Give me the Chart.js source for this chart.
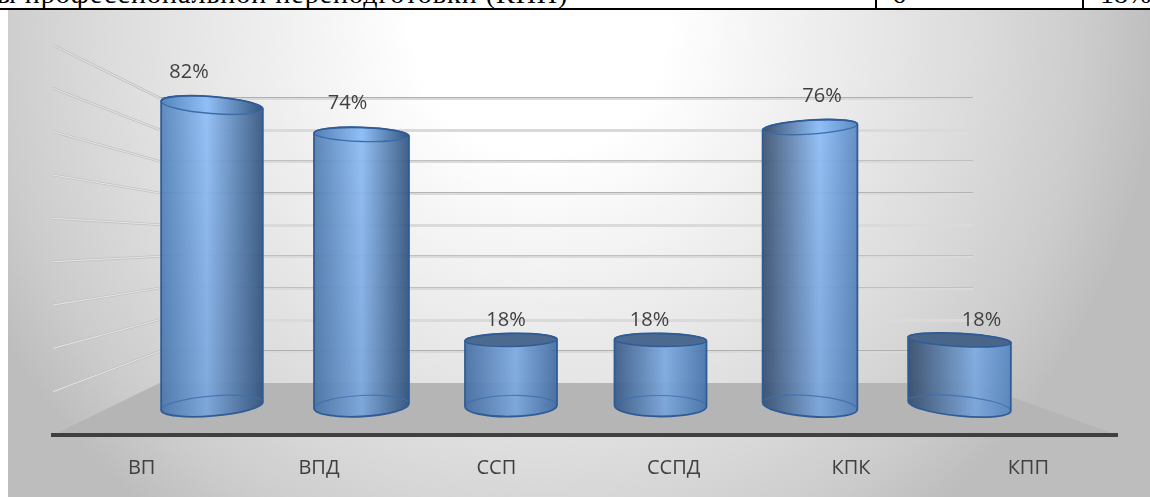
<!DOCTYPE html>
<html lang="ru">
<head>
<meta charset="utf-8">
<title>Chart</title>
<script src="https://cdn.jsdelivr.net/npm/chart.js@4"></script>
<style>
html,body{margin:0;padding:0;background:#fff;width:1150px;height:497px;overflow:hidden}
#wrap{position:relative;width:1150px;height:497px;overflow:hidden}
canvas{position:absolute;left:0;top:0}
#strip{position:absolute;left:0;top:0;width:1150px;height:10px;overflow:hidden;background:#fff;box-sizing:border-box;border-bottom:2px solid #000;font-family:"Liberation Serif",serif;font-size:28px;line-height:28px;color:#000}
#strip span{position:absolute;top:-20px;white-space:nowrap}
#strip i{position:absolute;top:0;width:2px;height:10px;background:#000}
</style>
</head>
<body>
<div id="wrap">
<canvas id="c" width="1150" height="497"></canvas>
<div id="strip">
<span style="left:-3px;letter-spacing:1px">ы профессиональной переподготовки (КПП)</span>
<i style="left:875px"></i><span style="left:892px">6</span>
<i style="left:1082px"></i><span style="left:1100px">18%</span>
</div>
</div>
<script>
const categories = ['ВП', 'ВПД', 'ССП', 'ССПД', 'КПК', 'КПП'];
const values = [82, 74, 18, 18, 76, 18];
const wallTicks = [10, 20, 30, 40, 50, 60, 70, 80, 90];

// styling of each wall line and cylinder
const wallCore = ['#b0b0b0', '', '#c0c0c0', '#c0c0c0', '', '#b4b4b4', '#c0c0c0', '', '#b0b0b0'];
const halfWidths = [51, 47.5, 46, 46, 47.5, 51.5];
const topTilt = [4.5, 1.8, -1, 1, -3.6, 3.2];
const baseTilt = [-4.6, -3, -1, 0.5, 4.2, 5.6];
const topRy = [8.5, 7, 6.5, 6.5, 7, 6.5];
const baseRy = [10, 10.5, 10.5, 10.5, 10.5, 10];
const leftShade = ['#5584bc', '#5380b4', '#4f79ae', '#3f618c', '#3c5270', '#3a4f6b'];
const lightPos = [0.45, 0.5, 0.55, 0.55, 0.6, 0.65];
const rightShade = ['#34567f', '#33567f', '#4a76ad', '#4f7eb8', '#5b8ac4', '#6294d0'];
const flatTop = ['', '', '#4c6a90', '#4c6a90', '', '#4a658a'];
const labelDx = [-23, -14, -5, -11, 12, 22];
const labelDy = [33, 31, 20, 20, 31, 20];

const D2R = Math.PI / 180;

const scene = {
  id: 'scene',
  beforeDraw(chart) {
    const c = chart.ctx, a = chart.chartArea;
    const back = chart.scales.yBack, front = chart.scales.yFront, xb = chart.scales.x2;
    c.save();
    const g = c.createRadialGradient(540, 30, 0, 540, 30, 620);
    g.addColorStop(0, '#ffffff');
    g.addColorStop(0.2, '#ffffff');
    g.addColorStop(0.36, '#f4f4f4');
    g.addColorStop(0.56, '#e6e6e6');
    g.addColorStop(0.72, '#dadada');
    g.addColorStop(0.88, '#cccccc');
    g.addColorStop(1, '#bdbdbd');
    c.fillStyle = g;
    c.fillRect(8, 10, 1142, 487);

    const bl = xb.getPixelForValue(0.65), br = xb.getPixelForValue(6.09);
    // floor
    c.fillStyle = '#b5b5b5';
    c.beginPath();
    c.moveTo(bl, back.getPixelForValue(0));
    c.lineTo(br, back.getPixelForValue(0));
    c.lineTo(a.right, a.bottom);
    c.lineTo(a.left, a.bottom);
    c.closePath();
    c.fill();

    // back wall grid and side wall lines
    wallTicks.forEach((v, i) => {
      const y = Math.round(back.getPixelForValue(v));
      c.fillStyle = '#dadada';
      c.fillRect(bl, y - 1, br - bl, 3);
      if (wallCore[i]) {
        c.fillStyle = wallCore[i];
        c.fillRect(bl, y - 1, br - bl, 1);
      }
      c.beginPath();
      c.moveTo(a.left, front.getPixelForValue(v));
      c.lineTo(bl, back.getPixelForValue(v));
      c.strokeStyle = '#c2c2c2';
      c.lineWidth = 2.6;
      c.stroke();
      c.strokeStyle = '#e6e6e6';
      c.lineWidth = 1;
      c.stroke();
    });
    c.restore();
  },
  beforeDatasetDraw(chart, args) {
    const c = chart.ctx;
    const bars = chart.getDatasetMeta(args.index).data;
    bars.forEach((b, i) => {
      const cx = b.x, rx = halfWidths[i], ty = b.y, by = b.base;
      const rt = topTilt[i] * D2R, rb = baseTilt[i] * D2R;
      const grad = c.createLinearGradient(cx - rx, 0, cx + rx, 0);
      grad.addColorStop(0, leftShade[i]);
      grad.addColorStop(lightPos[i], '#90bff8');
      grad.addColorStop(1, rightShade[i]);

      const outline = () => {
        c.beginPath();
        c.ellipse(cx, by, rx, baseRy[i], rb, Math.PI, 0, true);
        c.ellipse(cx, ty, rx, topRy[i], rt, 0, Math.PI, true);
        c.closePath();
      };
      c.save();
      c.globalAlpha = 0.93;
      outline();
      c.fillStyle = grad;
      c.fill();
      c.globalAlpha = 1;
      const shade = c.createLinearGradient(0, 100, 0, 415);
      shade.addColorStop(0, 'rgba(40,70,110,0)');
      shade.addColorStop(1, 'rgba(40,70,110,0.2)');
      c.fillStyle = shade;
      c.fill();
      c.beginPath();
      c.ellipse(cx, by, rx, baseRy[i], rb, Math.PI, 0, false);
      c.strokeStyle = 'rgba(60,110,175,0.8)';
      c.lineWidth = 1.2;
      c.stroke();
      c.beginPath();
      c.ellipse(cx, ty, rx, topRy[i], rt, 0, Math.PI * 2);
      c.fillStyle = flatTop[i] || grad;
      c.fill();
      c.strokeStyle = flatTop[i] ? '#2f5c96' : '#3d6ca8';
      c.lineWidth = 1.4;
      c.stroke();
      outline();
      c.strokeStyle = '#2f5c96';
      c.lineWidth = 1.8;
      c.stroke();
      c.restore();
    });
    return false;
  },
  afterDatasetsDraw(chart) {
    const c = chart.ctx;
    const bars = chart.getDatasetMeta(0).data;
    c.save();
    c.font = '20px "Open Sans"';
    c.fillStyle = '#404040';
    c.textAlign = 'center';
    c.textBaseline = 'middle';
    bars.forEach((b, i) => {
      c.fillText(values[i] + '%', b.x + labelDx[i], b.y - labelDy[i]);
    });
    c.restore();
  }
};

new Chart(document.getElementById('c'), {
  type: 'bar',
  data: {
    labels: categories,
    datasets: [{
      data: values.map((v, i) => ({ x: i + 1, y: v })),
      xAxisID: 'x2',
      yAxisID: 'y',
      backgroundColor: '#6f9fd8',
      borderColor: '#2f5c96'
    }]
  },
  options: {
    responsive: false,
    animation: false,
    layout: { padding: { left: 53, right: 33, top: 45, bottom: 0 } },
    plugins: { legend: { display: false }, tooltip: { enabled: false }, title: { display: false } },
    scales: {
      x: {
        type: 'category',
        position: 'bottom',
        grid: { display: false, drawTicks: false },
        border: { display: true, color: '#404040', width: 4 },
        ticks: { color: '#404040', font: { family: '"Open Sans"', size: 20 }, padding: 21, maxRotation: 0 },
        afterFit(s) { s.height = 62; }
      },
      x2: { type: 'linear', display: false, offset: false, min: -0.0635, max: 7.0535 },
      y: { type: 'linear', display: false, min: -7.9, max: 98.37 },
      yBack: { type: 'linear', display: false, min: -16.42, max: 106.74 },
      yFront: { type: 'linear', display: false, min: 0, max: 90 }
    }
  },
  plugins: [scene]
});
</script>
</body>
</html>
